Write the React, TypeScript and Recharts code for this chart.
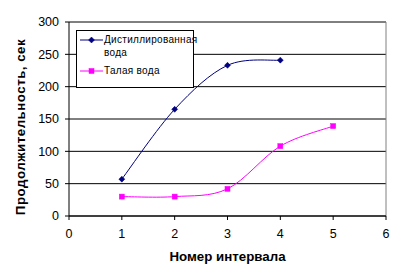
import React from 'react';
import { LineChart, Line, XAxis, YAxis, CartesianGrid, ReferenceLine, Legend } from 'recharts';

const xTicks = [0, 1, 2, 3, 4, 5, 6];
const yTicks = [0, 50, 100, 150, 200, 250, 300];

const distilledX = [1, 2, 3, 4];
const distilledY = [57, 165, 233, 241];
const meltX = [1, 2, 3, 4, 5];
const meltY = [30, 30, 42, 108, 139];

const distilledName = 'Дистиллированная вода';
const meltName = 'Талая вода';

const distilledData = distilledX.map((x, i) => ({ x, y: distilledY[i] }));
const meltData = meltX.map((x, i) => ({ x, y: meltY[i] }));

const BLUE = '#000080';
const PINK = '#FF00FF';
const FONT = '"Liberation Sans", Arial, sans-serif';

// Excel-like smoothing (Catmull-Rom converted to Bezier)
function excelCurve(context: any) {
  let pts: [number, number][] = [];
  return {
    areaStart() {},
    areaEnd() {},
    lineStart() {
      pts = [];
    },
    point(x: number, y: number) {
      pts.push([+x, +y]);
    },
    lineEnd() {
      const n = pts.length;
      if (n === 0) return;
      context.moveTo(pts[0][0], pts[0][1]);
      if (n === 1) return;
      for (let i = 0; i < n - 1; i++) {
        const p0 = pts[Math.max(i - 1, 0)];
        const p1 = pts[i];
        const p2 = pts[i + 1];
        const p3 = pts[Math.min(i + 2, n - 1)];
        const c1x = p1[0] + (p2[0] - p0[0]) / 6;
        const c1y = p1[1] + (p2[1] - p0[1]) / 6;
        const c2x = p2[0] - (p3[0] - p1[0]) / 6;
        const c2y = p2[1] - (p3[1] - p1[1]) / 6;
        context.bezierCurveTo(c1x, c1y, c2x, c2y, p2[0], p2[1]);
      }
    },
  };
}

const Diamond = (props: any) => {
  const { cx, cy } = props;
  if (cx == null || cy == null) return null;
  const r = 3;
  return (
    <polygon
      points={`${cx},${cy - r} ${cx + r},${cy} ${cx},${cy + r} ${cx - r},${cy}`}
      fill={BLUE}
      stroke={BLUE}
      strokeWidth={0.5}
    />
  );
};

const Square = (props: any) => {
  const { cx, cy } = props;
  if (cx == null || cy == null) return null;
  const s = 5;
  return <rect x={cx - s / 2} y={cy - s / 2} width={s} height={s} fill={PINK} stroke={PINK} strokeWidth={0.5} />;
};

const LegendBox = () => (
  <div
    style={{
      width: 118,
      height: 58,
      border: '1px solid #000',
      background: '#fff',
      boxSizing: 'border-box',
      fontFamily: FONT,
      fontSize: 10,
      color: '#000',
      position: 'relative',
    }}
  >
    <svg width={26} height={58} style={{ position: 'absolute', left: 2, top: 0 }}>
      <line x1={1} y1={9} x2={24} y2={9} stroke={BLUE} strokeWidth={1} />
      <Diamond cx={12.5} cy={9} />
      <line x1={1} y1={40} x2={24} y2={40} stroke={PINK} strokeWidth={1} />
      <Square cx={12.5} cy={40} />
    </svg>
    <div style={{ position: 'absolute', left: 27, top: 2, lineHeight: '13px', width: 90, letterSpacing: 0.3 }}>
      Дистиллированная
      <br />
      вода
    </div>
    <div style={{ position: 'absolute', left: 27, top: 33, lineHeight: '13px', letterSpacing: 0.3 }}>{meltName}</div>
  </div>
);

const YTitle = (props: any) => {
  const vb = props.viewBox || {};
  const cx = 24.5;
  const cy = (vb.y ?? 22) + (vb.height ?? 194) / 2 + 8;
  return (
    <text
      x={cx}
      y={cy}
      transform={`rotate(-90, ${cx}, ${cy})`}
      textAnchor="middle"
      fontFamily={FONT}
      fontSize={13.3}
      fontWeight="bold"
      letterSpacing={0.5}
      fill="#000"
    >
      Продолжительность, сек
    </text>
  );
};

export default function App() {
  return (
    <div style={{ position: 'fixed', left: 0, top: 0, width: 396, height: 279, background: '#fff' }}>
      <LineChart width={396} height={279} margin={{ top: 22, right: 10, bottom: 0, left: 0 }}>
        <CartesianGrid horizontal vertical={false} stroke="#000" strokeWidth={1} />
        <XAxis
          type="number"
          dataKey="x"
          domain={[0, 6]}
          ticks={xTicks}
          allowDataOverflow
          height={63}
          tickSize={4}
          tickMargin={9}
          axisLine={{ stroke: '#000' }}
          tickLine={{ stroke: '#000' }}
          tick={{ fill: '#000', fontFamily: FONT, fontSize: 12.5 }}
          label={{
            value: 'Номер интервала',
            position: 'insideBottom',
            offset: 18,
            fill: '#000',
            fontFamily: FONT,
            fontSize: 13.3,
            fontWeight: 'bold',
          }}
        />
        <YAxis
          type="number"
          dataKey="y"
          domain={[0, 300]}
          ticks={yTicks}
          width={69}
          tickSize={4}
          tickMargin={6}
          axisLine={{ stroke: '#000' }}
          tickLine={{ stroke: '#000' }}
          tick={{ fill: '#000', fontFamily: FONT, fontSize: 12.5 }}
          label={<YTitle />}
        />
        <ReferenceLine y={300} stroke="#808080" strokeWidth={1} />
        <ReferenceLine x={6} stroke="#808080" strokeWidth={1} />
        <Legend
          layout="vertical"
          align="center"
          verticalAlign="middle"
          content={() => <LegendBox />}
          wrapperStyle={{ left: 76, top: 30, width: 118, height: 58 }}
        />
        <Line
          data={distilledData}
          dataKey="y"
          name={distilledName}
          type={excelCurve as any}
          stroke={BLUE}
          strokeWidth={1}
          dot={<Diamond />}
          activeDot={false}
          isAnimationActive={false}
        />
        <Line
          data={meltData}
          dataKey="y"
          name={meltName}
          type={excelCurve as any}
          stroke={PINK}
          strokeWidth={1}
          dot={<Square />}
          activeDot={false}
          isAnimationActive={false}
        />
      </LineChart>
    </div>
  );
}
